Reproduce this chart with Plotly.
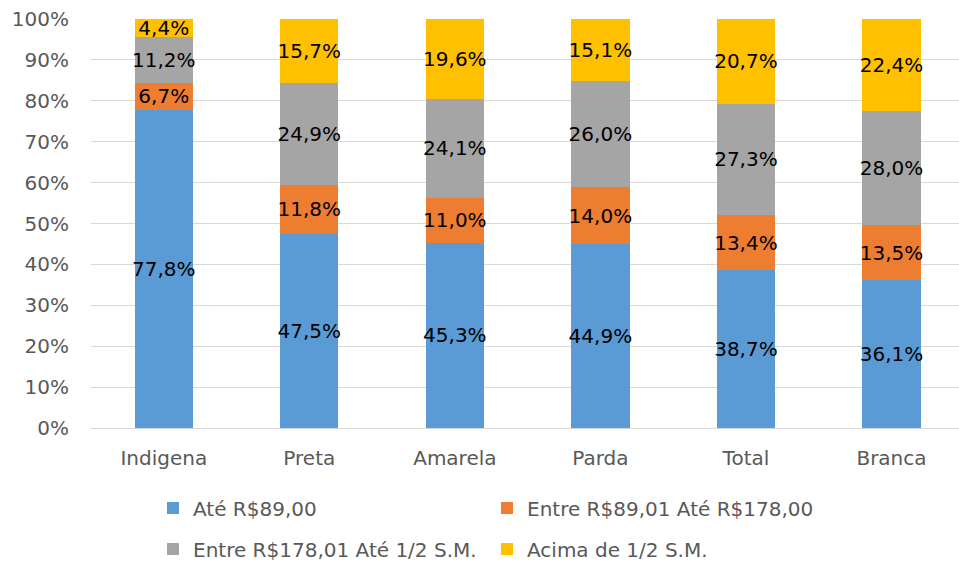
import plotly.graph_objects as go

categories = ["Indigena", "Preta", "Amarela", "Parda", "Total", "Branca"]
ate_89 = [77.8, 47.5, 45.3, 44.9, 38.7, 36.1]
entre_89_178 = [6.7, 11.8, 11.0, 14.0, 13.4, 13.5]
entre_178_meio = [11.2, 24.9, 24.1, 26.0, 27.3, 28.0]
acima_meio = [4.4, 15.7, 19.6, 15.1, 20.7, 22.4]
y_ticks = list(range(0, 101, 10))
y_tick_labels = [f"{v}%" for v in y_ticks]

series = [
    ("Até R$89,00", ate_89, "#5B9BD5", "legend"),
    ("Entre R$89,01 Até R$178,00", entre_89_178, "#ED7D31", "legend"),
    ("Entre R$178,01 Até 1/2 S.M.", entre_178_meio, "#A5A5A5", "legend2"),
    ("Acima de 1/2 S.M.", acima_meio, "#FFC000", "legend2"),
]

FONT = "DejaVu Sans"
W, H = 959, 561
L, T, B = 91, 19, 133
plot_h = H - T - B

fig = go.Figure()
for name, vals, color, lg in series:
    fig.add_trace(go.Bar(
        name=name, x=categories, y=vals,
        marker=dict(color=color, line=dict(width=0)),
        width=0.4,
        text=[f"{v:.1f}%".replace(".", ",") for v in vals],
        textposition="inside", insidetextanchor="middle",
        textangle=0, constraintext="none",
        textfont=dict(family=FONT, size=20, color="#000000"),
        cliponaxis=False,
        legend=lg,
    ))

def ly(px):
    return -(px - (H - B)) / plot_h

LEG_X = (153 - L) / (W - L)

fig.update_layout(
    width=W, height=H,
    barmode="stack", barnorm="percent",
    paper_bgcolor="white", plot_bgcolor="white",
    margin=dict(l=L, r=0, t=T, b=B, autoexpand=False),
    font=dict(family=FONT, size=20, color="#595959"),
    xaxis=dict(
        range=[-0.5, 5.464], showgrid=False, showline=True,
        linecolor="#D9D9D9", linewidth=1, ticks="",
        tickfont=dict(family=FONT, size=20, color="#595959"),
        ticklabelstandoff=12, automargin=False,
    ),
    yaxis=dict(
        range=[0, 100], tickvals=y_ticks, ticktext=y_tick_labels,
        showgrid=True, gridcolor="#D9D9D9", gridwidth=1,
        zeroline=False, ticks="", showline=False,
        tickfont=dict(family=FONT, size=20, color="#595959"),
        ticklabelstandoff=21, automargin=False,
    ),
    legend=dict(
        orientation="h", x=LEG_X, xanchor="left",
        y=ly(508), yanchor="middle", traceorder="normal",
        entrywidth=289, entrywidthmode="pixels",
        font=dict(family=FONT, size=20, color="#595959"),
        bgcolor="rgba(0,0,0,0)",
    ),
    legend2=dict(
        orientation="h", x=LEG_X, xanchor="left",
        y=ly(549), yanchor="middle", traceorder="normal",
        entrywidth=289, entrywidthmode="pixels",
        font=dict(family=FONT, size=20, color="#595959"),
        bgcolor="rgba(0,0,0,0)",
    ),
    showlegend=True,
)

fig.write_html(
    "out.html",
    config={"displayModeBar": False},
    post_script="document.body.style.margin='0';document.body.style.overflow='hidden';",
)
